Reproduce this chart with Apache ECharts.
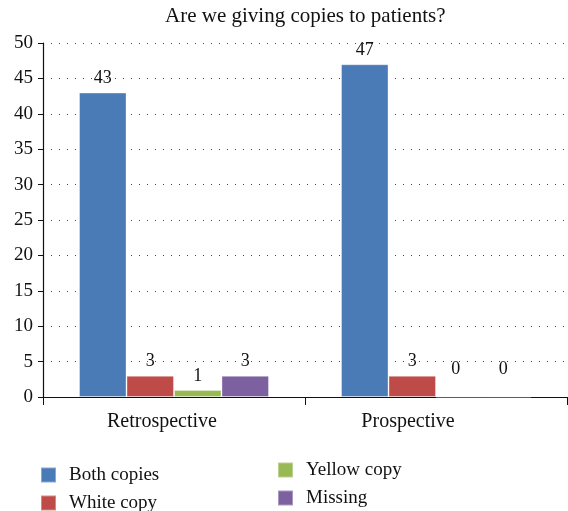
<!DOCTYPE html>
<html>
<head>
<meta charset="utf-8">
<script src="https://cdn.jsdelivr.net/npm/echarts@6/dist/echarts.min.js"></script>
<style>
  html, body { margin: 0; padding: 0; background: #fff; }
  #chart { width: 568px; height: 511px; }
</style>
</head>
<body>
<div id="chart"></div>
<script>
const categories = ['Retrospective', 'Prospective'];
const seriesNames = ['Both copies', 'White copy', 'Yellow copy', 'Missing'];
const bothCopies = [43, 47];
const whiteCopy = [3, 3];
const yellowCopy = [1, 0];
const missing = [3, 0];
const yTicks = { min: 0, max: 50, interval: 5 };

const colors = ['#4A7BB7', '#BE4B48', '#98B954', '#7D60A0'];
const serif = 'Liberation Serif';
const values = [bothCopies, whiteCopy, yellowCopy, missing];

// zero-height bars get their label lifted a little higher
function toData(arr) {
  return arr.map(v => v === 0 ? { value: v, label: { offset: [-4, -13] } } : v);
}

const legendText = { fontFamily: serif, fontSize: 19, color: '#111', lineHeight: 20, padding: [0, 0, 0, 8] };

const chart = echarts.init(document.getElementById('chart'));
chart.setOption({
  animation: false,
  title: {
    text: 'Are we giving copies to patients?',
    left: 160, top: 1,
    textStyle: { fontFamily: serif, fontSize: 21, fontWeight: 'normal', color: '#111' }
  },
  legend: [
    {
      data: seriesNames.slice(0, 2), orient: 'vertical', left: 35, top: 460, height: 80,
      itemWidth: 15, itemHeight: 15, itemGap: 8, icon: 'rect', textStyle: legendText
    },
    {
      data: seriesNames.slice(2), orient: 'vertical', left: 272, top: 455, height: 80,
      itemWidth: 15, itemHeight: 15, itemGap: 8, icon: 'rect', textStyle: legendText
    }
  ],
  grid: { left: 43, right: 1, top: 43, bottom: 114, containLabel: false },
  xAxis: {
    type: 'category', data: categories,
    axisLine: { lineStyle: { color: '#111', width: 1.2 } },
    axisTick: { show: true, length: 8, lineStyle: { color: '#111' } },
    axisLabel: {
      fontFamily: serif, fontSize: 20, color: '#111', margin: 15,
      formatter: (v, i) => `{c${i}|${v}}`,
      rich: {
        c0: { fontFamily: serif, fontSize: 20, color: '#111', padding: [0, 24, 0, 0] },
        c1: { fontFamily: serif, fontSize: 20, color: '#111', padding: [0, 56, 0, 0] }
      }
    }
  },
  yAxis: {
    type: 'value', min: yTicks.min, max: yTicks.max, interval: yTicks.interval,
    axisLine: { show: true, lineStyle: { color: '#111', width: 1.2 } },
    axisTick: { show: true, length: 5, lineStyle: { color: '#111' } },
    axisLabel: { fontFamily: serif, fontSize: 19, color: '#111', margin: 10 },
    splitLine: { lineStyle: { color: '#444', type: [1, 7], width: 1 } }
  },
  series: seriesNames.map((name, i) => ({
    name, type: 'bar', data: toData(values[i]),
    barGap: '0%', barCategoryGap: '27.5%',
    itemStyle: { color: colors[i], borderColor: 'rgba(255,255,255,0.35)', borderWidth: 1 },
    label: {
      show: true, position: 'top', distance: 5,
      fontFamily: serif, fontSize: 18, color: '#111'
    }
  }))
});
</script>
</body>
</html>
